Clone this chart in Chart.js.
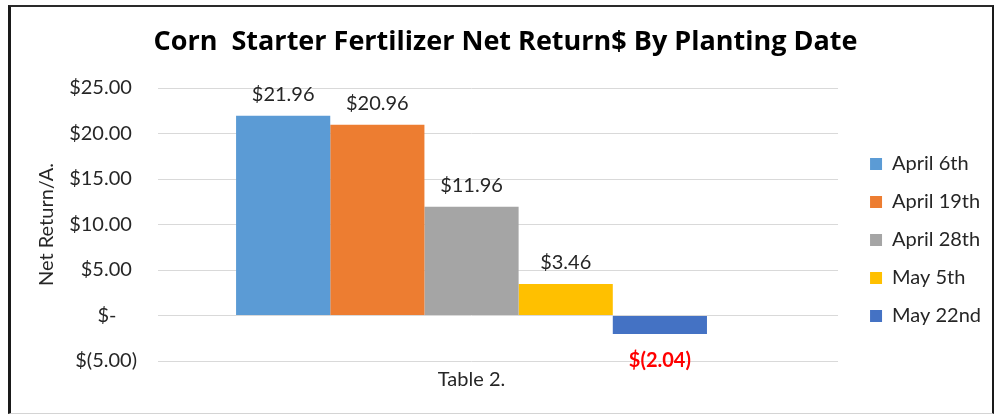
<!DOCTYPE html>
<html lang="en">
<head>
<meta charset="UTF-8">
<title>Corn Starter Fertilizer Net Return$ By Planting Date</title>
<script src="https://cdn.jsdelivr.net/npm/chart.js"></script>
<style>
  html, body { margin: 0; padding: 0; background: #fff; }
  #wrap { position: relative; width: 1002px; height: 415px; }
  #frame {
    position: absolute; left: 8px; top: 5px; width: 981px; height: 406px;
    border-left: 3px solid #1a1a1a; border-top: 2px solid #2a2a2a;
    border-right: 2px solid #1a1a1a; border-bottom: 1px solid #d4d4d4;
    pointer-events: none;
  }
</style>
</head>
<body>
<div id="wrap">
  <canvas id="myChart" width="1002" height="415"></canvas>
  <div id="frame"></div>
</div>

<script>
    // chart data
    const categories = ['Table 2.'];
    const plantingDates = ['April 6th', 'April 19th', 'April 28th', 'May 5th', 'May 22nd'];
    const netReturns = [21.96, 20.96, 11.96, 3.46, -2.04];
    const yTicks = [-5, 0, 5, 10, 15, 20, 25];

    const palette = ['#5b9bd5', '#ed7d31', '#a5a5a5', '#ffc000', '#4472c4'];

    function money(v) {
        if (v === 0) return '$-    ';
        if (v < 0) return '$(' + Math.abs(v).toFixed(2) + ')';
        return '$' + v.toFixed(2) + ' ';
    }

    // value labels above / below each bar
    const barLabels = {
        id: 'barLabels',
        afterDatasetsDraw(chart) {
            const ctx = chart.ctx;
            ctx.save();
            ctx.textAlign = 'center';
            ctx.textBaseline = 'middle';
            chart.data.datasets.forEach((ds, i) => {
                const meta = chart.getDatasetMeta(i);
                meta.data.forEach((bar, j) => {
                    const v = ds.data[j];
                    if (v < 0) {
                        ctx.font = 'bold 20px Lato';
                        ctx.fillStyle = '#ff0000';
                        ctx.fillText(money(v), bar.x, bar.y + 26);
                    } else {
                        ctx.font = '20px Lato';
                        ctx.fillStyle = '#262626';
                        ctx.fillText('$' + v.toFixed(2), bar.x, bar.y - 21);
                    }
                });
            });
            ctx.restore();
        }
    };

    Chart.defaults.font.family = 'Lato';
    Chart.defaults.color = '#262626';

    const ctx = document.getElementById('myChart').getContext('2d');
    const myChart = new Chart(ctx, {
        type: 'bar',
        data: {
            labels: categories,
            datasets: plantingDates.map((d, i) => ({
                label: d,
                data: [netReturns[i]],
                backgroundColor: palette[i],
                borderWidth: 0
            }))
        },
        options: {
            responsive: false,
            animation: false,
            categoryPercentage: 0.751,
            barPercentage: 1,
            layout: { padding: { left: 20, top: 20, right: 11, bottom: 16 } },
            plugins: {
                title: {
                    display: true,
                    text: 'Corn  Starter Fertilizer Net Return$ By Planting Date',
                    color: '#000',
                    font: { family: 'Open Sans', size: 27, weight: 'bold' },
                    padding: { top: 6, bottom: 29.6 }
                },
                legend: {
                    position: 'right',
                    fullSize: false,
                    title: { display: true, text: ' ', font: { size: 10 }, padding: { top: 19, bottom: 0 } },
                    labels: { boxWidth: 12, boxHeight: 12, padding: 18, font: { size: 20 }, color: '#262626' }
                },
                tooltip: { enabled: false }
            },
            scales: {
                x: {
                    grid: { display: false, drawTicks: false },
                    border: { display: false },
                    ticks: { padding: 7, font: { size: 20 } }
                },
                y: {
                    min: -5, max: 25,
                    afterBuildTicks: (axis) => { axis.ticks = yTicks.map(v => ({ value: v })); },
                    grid: { color: '#d9d9d9', drawTicks: false },
                    border: { display: false },
                    ticks: { padding: 21, font: { size: 20 }, callback: (v) => money(v) },
                    title: { display: true, text: 'Net Return/A.', font: { size: 20 }, padding: { top: 15, bottom: 0 } },
                    afterFit: (axis) => { axis.width = 138; }
                },
                // right-hand helper axis: its tick marks carry the gridlines out past the bars
                y2: {
                    position: 'right',
                    min: -5, max: 25,
                    afterBuildTicks: (axis) => { axis.ticks = yTicks.map(v => ({ value: v })); },
                    grid: { color: '#d9d9d9', drawOnChartArea: false, drawTicks: true, tickLength: 53 },
                    border: { display: false },
                    ticks: { display: false },
                    afterFit: (axis) => { axis.width = 67; }
                }
            }
        },
        plugins: [barLabels]
    });
</script>
</body>
</html>
